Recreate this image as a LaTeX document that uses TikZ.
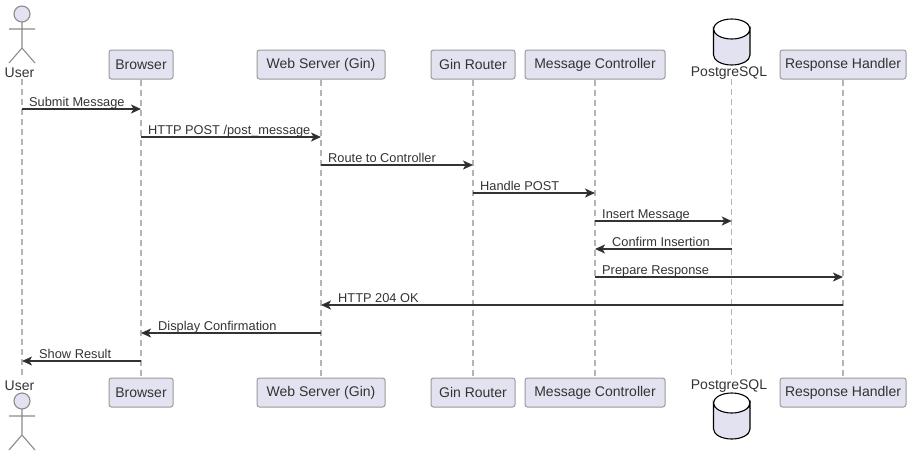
\documentclass[tikz,border=0pt]{standalone}
\usepackage{fontspec}
\setmainfont{Liberation Sans}
\usetikzlibrary{arrows.meta}
\definecolor{boxfill}{HTML}{E2E2F0}
\definecolor{boxline}{HTML}{9A9A9A}
\definecolor{ink}{HTML}{333333}
\definecolor{lifeline}{HTML}{B4B4B4}
\tikzset{
  x=1pt,y=-1pt,
  part/.style={draw=boxline,fill=boxfill,rounded corners=2.5pt,line width=1pt,minimum height=29pt,inner sep=0pt,text=ink,font=\fontsize{14}{14}\selectfont},
  caption/.style={text=ink,inner sep=0pt,font=\fontsize{14}{14}\selectfont},
  life/.style={draw=lifeline,line width=1.4pt,dash pattern=on 6pt off 4pt},
  msg/.style={draw=ink,line width=1.3pt,-{Stealth[length=10pt,width=9pt,inset=2.5pt,fill=black!85]}},
  msglabel/.style={anchor=base west,inner sep=0pt,text=ink},
  stick/.style={draw=boxline!90!black,line width=1.1pt,fill=none},
  head/.style={draw=boxline!90!black,fill=boxfill,line width=1.1pt},
  cyl/.style={draw=black,line width=1.1pt,fill=boxfill},
}
\newcommand{\lab}[4]{\node[msglabel] at (#1,#2) {\fontsize{12.8}{13}\selectfont\addfontfeature{LetterSpace=#3}#4};}
\newcommand{\cylinder}[1]{%
  \draw[cyl] (713.5,#1+10) arc[start angle=180,end angle=0,x radius=18.25,y radius=10]
    -- (750,#1+36) arc[start angle=0,end angle=180,x radius=18.25,y radius=10] -- cycle;
  \draw[cyl,fill=none] (713.5,#1+10) arc[start angle=180,end angle=360,x radius=18.25,y radius=10];}
\newcommand{\person}[2]{%
  \draw[head] (22,#1+8) circle[radius=8];
  \draw[stick] (22,#1+16) -- (22,#1+#2) (9,#1+23) -- (35,#1+23)
    (9,#1+57) -- (22,#1+42) -- (35,#1+57);}
\begin{document}
\begin{tikzpicture}
\useasboundingbox (0,0) rectangle (912,458);
% end points of lifelines
\coordinate (userT) at (22,79); \coordinate (userB) at (22,378);
\coordinate (dbT) at (731.75,79); \coordinate (dbB) at (731.75,378);
\node[part,minimum width=64pt]  (brT) at (141,64.5) {Browser};
\node[part,minimum width=128pt] (wsT) at (321,64.5) {Web Server (Gin)};
\node[part,minimum width=84pt]  (grT) at (473,64.5) {Gin Router};
\node[part,minimum width=140pt] (mcT) at (595,64.5) {Message Controller};
\node[part,minimum width=126pt] (rhT) at (843,64.5) {Response Handler};
\node[part,minimum width=64pt]  (brB) at (141,392.5) {Browser};
\node[part,minimum width=128pt] (wsB) at (321,392.5) {Web Server (Gin)};
\node[part,minimum width=84pt]  (grB) at (473,392.5) {Gin Router};
\node[part,minimum width=140pt] (mcB) at (595,392.5) {Message Controller};
\node[part,minimum width=126pt] (rhB) at (843,392.5) {Response Handler};
\foreach \a/\b in {userT/userB,brT/brB,wsT/wsB,grT/grB,mcT/mcB,dbT/dbB,rhT/rhB}
  \draw[life] (\a) -- (\b);
\person{6}{42}
\person{393}{42}
\node[caption] (userTl) at (19.5,73) {User};
\node[caption] (userBl) at (19.5,386) {User};
\cylinder{19}
\cylinder{393}
\node[caption] (dbTl) at (729,73) {PostgreSQL};
\node[caption] (dbBl) at (729,386) {PostgreSQL};
% messages
\draw[msg] (userT |- 0,109) -- (brT.south |- 0,109);
\draw[msg] (brT.south |- 0,137) -- (wsT.south |- 0,137);
\draw[msg] (wsT.south |- 0,165) -- (grT.south |- 0,165);
\draw[msg] (grT.south |- 0,193) -- (mcT.south |- 0,193);
\draw[msg] (mcT.south |- 0,221) -- (dbT |- 0,221);
\draw[msg] (dbT |- 0,249) -- (mcT.south |- 0,249);
\draw[msg] (mcT.south |- 0,277) -- (rhT.south |- 0,277);
\draw[msg] (rhT.south |- 0,305) -- (wsT.south |- 0,305);
\draw[msg] (wsT.south |- 0,333) -- (brT.south |- 0,333);
\draw[msg] (brT.south |- 0,361) -- (userT |- 0,361);
\lab{29}{106}{0}{Submit Message}
\lab{148}{134}{-0.02}{HTTP POST /post\_message}
\lab{328}{162}{0.09}{Route to Controller}
\lab{480}{190}{-0.039}{Handle POST}
\lab{602}{218}{0.05}{Insert Message}
\lab{612}{246}{0.076}{Confirm Insertion}
\lab{602}{274}{0.028}{Prepare Response}
\lab{338}{302}{-0.042}{HTTP 204 OK}
\lab{158}{330}{0.062}{Display Confirmation}
\lab{39}{358}{0.017}{Show Result}
\end{tikzpicture}
\end{document}
